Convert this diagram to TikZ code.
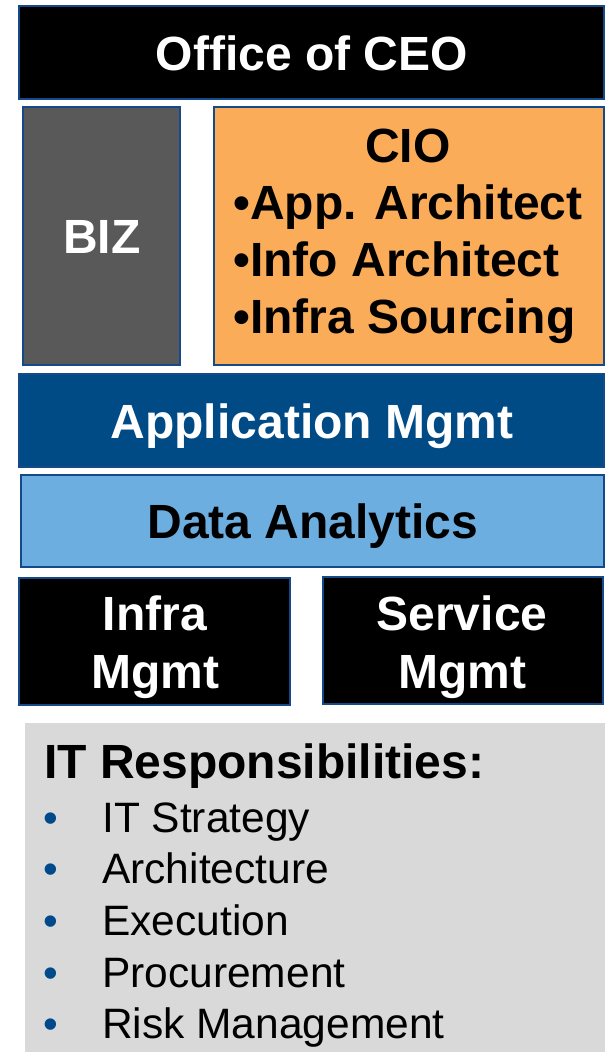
\documentclass[tikz,border=0pt]{standalone}
\usepackage{fontspec}
\setmainfont{Liberation Sans}
\definecolor{edgeblue}{RGB}{20,74,138}
\definecolor{bizgrey}{RGB}{89,89,89}
\definecolor{cioorange}{RGB}{250,172,88}
\definecolor{appblue}{RGB}{0,74,134}
\definecolor{datablue}{RGB}{108,174,224}
\definecolor{panelgrey}{RGB}{217,217,217}
\definecolor{bulletblue}{RGB}{0,74,140}
\tikzset{
  box/.style={draw=edgeblue, line width=1.5pt, inner sep=0pt, outer sep=0pt},
  headtext/.style={font=\fontsize{48}{57}\selectfont\bfseries, inner sep=0pt, anchor=base, align=center},
  twoline/.style={font=\fontsize{48}{58}\selectfont\bfseries},
  itemtext/.style={font=\fontsize{42.5}{50}\selectfont, inner sep=0pt, anchor=base west},
  dot/.style={font=\fontsize{42}{50}\selectfont, text=bulletblue, inner sep=0pt, anchor=base}
}
\begin{document}
\begin{tikzpicture}[x=1pt,y=-1pt]
\useasboundingbox (0,0) rectangle (605,1052);
% boxes
\node[box, fill=black, minimum width=585pt, minimum height=93pt] (ceo) at (311.5,52.5) {};
\node[box, fill=bizgrey, minimum width=157pt, minimum height=258pt] (biz) at (101.5,236) {};
\node[box, fill=cioorange, minimum width=390pt, minimum height=258pt] (cio) at (409,236) {};
\node[box, fill=appblue, minimum width=585pt, minimum height=93pt] (app) at (311.5,420.5) {};
\node[box, fill=datablue, minimum width=583pt, minimum height=92pt] (data) at (312.5,521) {};
\node[box, fill=black, minimum width=271pt, minimum height=127pt] (infra) at (154.5,641.5) {};
\node[box, fill=black, minimum width=280pt, minimum height=127pt] (service) at (463,640.5) {};
\fill[panelgrey] (25,723) rectangle (605,1052);
\coordinate (panel) at (25,723);
% texts
\node[headtext, text=white] (ceot) at (312,70) {Office of CEO};
\node[headtext, text=white] (bizt) at (102,253) {BIZ};
\node[headtext, text=black] (ciot) at (408,333) {\begin{tabular}[b]{@{}l@{}}\multicolumn{1}{@{}c@{}}{CIO}\\•App. Architect\\•Info Architect\\•Infra Sourcing\end{tabular}};
\node[headtext, text=white] (appt) at (312,438) {Application Mgmt};
\node[headtext, text=black] (datat) at (313,538) {Data Analytics};
\node[headtext, twoline, text=white] (infrat) at (155,688) {Infra\\Mgmt};
\node[headtext, twoline, text=white] (servicet) at (462,688) {Service\\Mgmt};
\node[headtext, anchor=base west] (itresp) at (44,778) {IT Responsibilities:};
\node[dot] (d1) at (51,832) {•};
\node[dot] (d2) at (51,883) {•};
\node[dot] (d3) at (51,935) {•};
\node[dot] (d4) at (51,987) {•};
\node[dot] (d5) at (51,1038) {•};
\node[itemtext] (i1) at (102,832) {IT Strategy};
\node[itemtext] (i2) at (102,883) {Architecture};
\node[itemtext] (i3) at (102,935) {Execution};
\node[itemtext] (i4) at (102,987) {Procurement};
\node[itemtext] (i5) at (102,1038) {Risk Management};
\end{tikzpicture}
\end{document}
